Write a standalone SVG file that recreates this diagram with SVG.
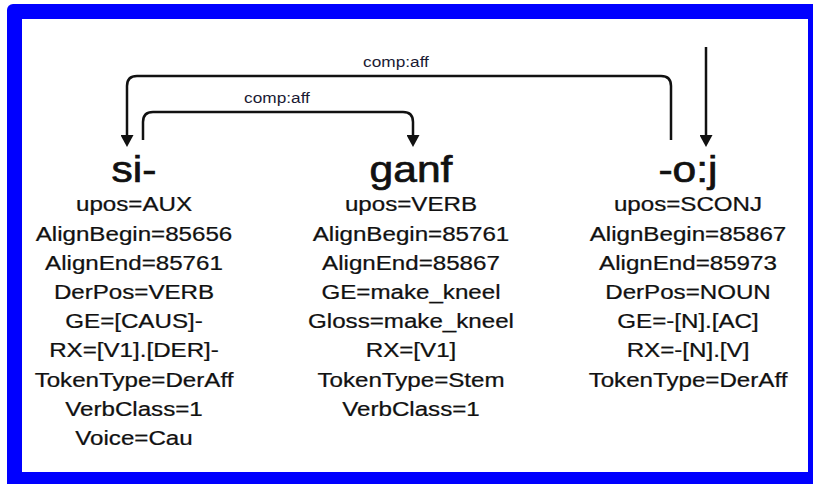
<svg xmlns="http://www.w3.org/2000/svg" width="813" height="484" viewBox="0 0 813 484">
  <style>
    text { font-family: "Liberation Sans", Arial, sans-serif; fill: #111; text-anchor: middle; }
    .head { font-size: 37px; stroke: #111; stroke-width: 0.7; }
    .attr { font-size: 21px; stroke: #111; stroke-width: 0.25; }
    .lbl { font-size: 15px; fill: #1a1a33; }
    .edge { fill: none; stroke: #111; stroke-width: 2.5; }
  </style>
  <defs>
    <marker id="arr" markerUnits="userSpaceOnUse" viewBox="0 0 12 13" markerWidth="12" markerHeight="13" refX="0" refY="6.5" orient="auto">
      <path d="M0,0 L12,6.5 L0,13 z" fill="#111"/>
    </marker>
  </defs>
  <rect x="7" y="4" width="830" height="500" rx="6" fill="#0000ff"/>
  <rect x="22" y="19" width="786" height="453" fill="#ffffff"/>

  <g id="connectors">
    <path class="edge" d="M671,140 V86 Q671,76 661,76 H137 Q127,76 127,86 V135" marker-end="url(#arr)"/>
    <path class="edge" d="M143,140 V122 Q143,112 153,112 H403 Q413,112 413,122 V135" marker-end="url(#arr)"/>
    <path class="edge" d="M706,47 V135" marker-end="url(#arr)"/>
    <g transform="translate(396,0) scale(1.15,1)"><text class="lbl" x="0" y="67">comp:aff</text></g>
    <g transform="translate(277,0) scale(1.15,1)"><text class="lbl" x="0" y="103">comp:aff</text></g>
  </g>

  <g id="node-si" transform="translate(134,0) scale(1.15,1)">
    <text class="head" x="0" y="182">si-</text>
    <text class="attr" x="0" y="211.5">upos=AUX</text>
    <text class="attr" x="0" y="240.7">AlignBegin=85656</text>
    <text class="attr" x="0" y="269.9">AlignEnd=85761</text>
    <text class="attr" x="0" y="299.1">DerPos=VERB</text>
    <text class="attr" x="0" y="328.3">GE=[CAUS]-</text>
    <text class="attr" x="0" y="357.5">RX=[V1].[DER]-</text>
    <text class="attr" x="0" y="386.7">TokenType=DerAff</text>
    <text class="attr" x="0" y="415.9">VerbClass=1</text>
    <text class="attr" x="0" y="445.1">Voice=Cau</text>
  </g>

  <g id="node-ganf" transform="translate(411,0) scale(1.15,1)">
    <text class="head" x="0" y="182">ganf</text>
    <text class="attr" x="0" y="211.5">upos=VERB</text>
    <text class="attr" x="0" y="240.7">AlignBegin=85761</text>
    <text class="attr" x="0" y="269.9">AlignEnd=85867</text>
    <text class="attr" x="0" y="299.1">GE=make_kneel</text>
    <text class="attr" x="0" y="328.3">Gloss=make_kneel</text>
    <text class="attr" x="0" y="357.5">RX=[V1]</text>
    <text class="attr" x="0" y="386.7">TokenType=Stem</text>
    <text class="attr" x="0" y="415.9">VerbClass=1</text>
  </g>

  <g id="node-oj" transform="translate(688,0) scale(1.15,1)">
    <text class="head" x="0" y="182">-o:j</text>
    <text class="attr" x="0" y="211.5">upos=SCONJ</text>
    <text class="attr" x="0" y="240.7">AlignBegin=85867</text>
    <text class="attr" x="0" y="269.9">AlignEnd=85973</text>
    <text class="attr" x="0" y="299.1">DerPos=NOUN</text>
    <text class="attr" x="0" y="328.3">GE=-[N].[AC]</text>
    <text class="attr" x="0" y="357.5">RX=-[N].[V]</text>
    <text class="attr" x="0" y="386.7">TokenType=DerAff</text>
  </g>
</svg>
